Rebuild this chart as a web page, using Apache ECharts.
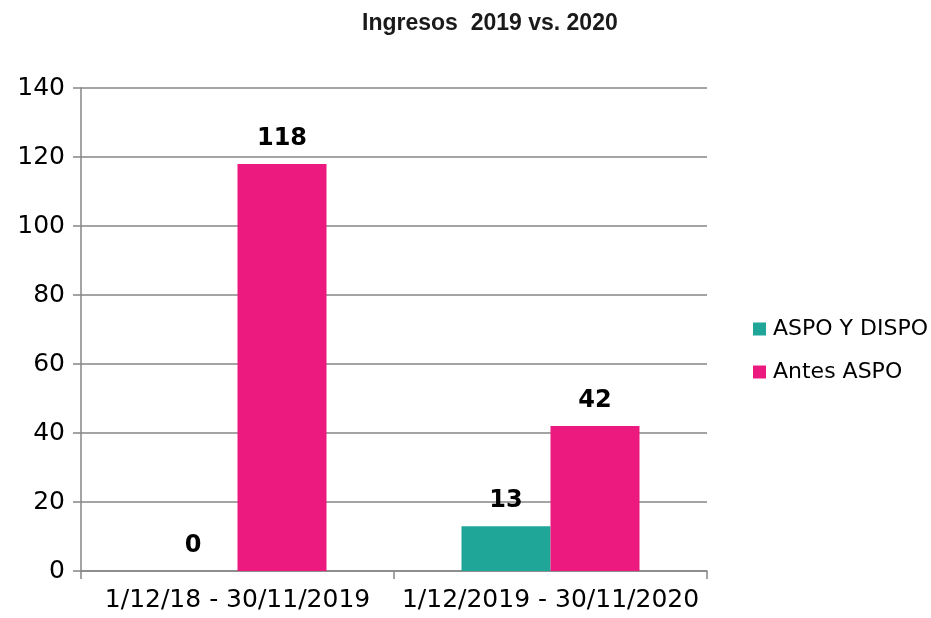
<!DOCTYPE html>
<html>
<head>
<meta charset="utf-8">
<title>Ingresos 2019 vs. 2020</title>
<script src="https://cdn.jsdelivr.net/npm/echarts@6/dist/echarts.min.js"></script>
<style>
  html, body { margin: 0; padding: 0; background: #fff; }
  #chart { width: 931px; height: 618px; }
</style>
</head>
<body>
<div id="chart"></div>
<script>
// periodos (eje x)
const periodos = ['1/12/18 - 30/11/2019', '1/12/2019 - 30/11/2020']
// series
const aspoYDispo = [0, 13]
const antesAspo = [118, 42]

const labelStyle = {
  show: true,
  position: 'top',
  distance: 13,
  color: '#000',
  fontFamily: 'DejaVu Sans',
  fontWeight: 'bold',
  fontSize: 24
}

const chart = echarts.init(document.getElementById('chart'))
chart.setOption({
  animation: false,
  title: {
    text: 'Ingresos  2019 vs. 2020',
    left: 357,
    top: 7,
    textStyle: { fontFamily: 'Liberation Sans', fontWeight: 'bold', fontSize: 23, color: '#1a1a1a' }
  },
  legend: {
    orient: 'vertical',
    left: 748,
    top: 313,
    itemWidth: 13,
    itemHeight: 13,
    itemGap: 21,
    icon: 'rect',
    textStyle: { fontFamily: 'DejaVu Sans', fontSize: 22, color: '#000', padding: [0, 0, 0, 2] },
    data: ['ASPO Y DISPO', 'Antes ASPO']
  },
  grid: { left: 81, right: 224, top: 88, bottom: 47 },
  xAxis: {
    type: 'category',
    data: periodos,
    axisLine: { lineStyle: { color: '#868686', width: 1.5 } },
    axisTick: { show: true, length: 8, interval: 0, lineStyle: { color: '#868686', width: 1.5 } },
    axisLabel: { margin: 17, interval: 0, fontFamily: 'DejaVu Sans', fontSize: 25, color: '#000' }
  },
  yAxis: {
    type: 'value',
    min: 0,
    max: 140,
    interval: 20,
    axisLine: { show: true, lineStyle: { color: '#868686', width: 1.5 } },
    axisTick: { show: true, length: 8, lineStyle: { color: '#868686', width: 1.5 } },
    axisLabel: { margin: 16, fontFamily: 'DejaVu Sans', fontSize: 25, color: '#000' },
    splitLine: { lineStyle: { color: '#868686', width: 1.5 } }
  },
  series: [
    {
      name: 'ASPO Y DISPO',
      type: 'bar',
      barWidth: 89,
      barGap: '0%',
      itemStyle: { color: '#20a698' },
      label: labelStyle,
      data: aspoYDispo
    },
    {
      name: 'Antes ASPO',
      type: 'bar',
      barWidth: 89,
      barGap: '0%',
      itemStyle: { color: '#ec1a7e' },
      label: labelStyle,
      data: antesAspo
    }
  ]
})
</script>
</body>
</html>
